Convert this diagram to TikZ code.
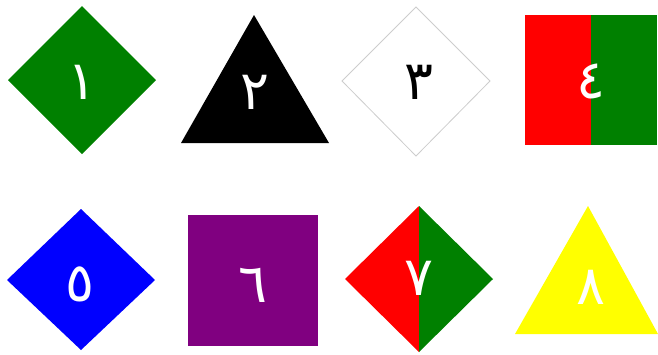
\documentclass[tikz,border=0pt]{standalone}
\usepackage{fontspec}
\newfontfamily\arabicfont[Script=Arabic]{DejaVu Sans}
\definecolor{cgreen}{RGB}{0,128,0}
\definecolor{cred}{RGB}{255,0,0}
\definecolor{cblue}{RGB}{0,0,255}
\definecolor{cpurple}{RGB}{128,0,128}
\definecolor{cyellow}{RGB}{255,255,0}
\definecolor{cgray}{RGB}{205,205,205}
\tikzset{
  digit/.style={font=\arabicfont\fontsize{54}{54}\selectfont, inner sep=0pt, text=white},
  digitdark/.style={digit, text=black},
}
\begin{document}
\begin{tikzpicture}[x=1pt,y=-1pt]
\useasboundingbox (0,0) rectangle (658,354);
% 1 green diamond
\fill[cgreen] (82,6) -- (156,80) -- (82,154) -- (8,80) -- cycle;
\node[digit] (d1) at (82,82) {١};
% 2 black triangle
\fill[black] (254,15) -- (329,143) -- (181,143) -- cycle;
\node[digit] (d2) at (255,92) {٢};
% 3 white diamond
\draw[cgray, line width=0.8pt, fill=white] (416,7) -- (490,81) -- (416,156) -- (342,81) -- cycle;
\node[digitdark] (d3) at (419,82) {٣};
% 4 red/green square
\fill[cred] (525,15) rectangle (591,145);
\fill[cgreen] (591,15) rectangle (657,145);
\node[digit] (d4) at (591,81) {٤};
% 5 blue diamond
\fill[cblue] (81,209) -- (155,280) -- (81,350) -- (7,280) -- cycle;
\node[digit] (d5) at (80,284) {٥};
% 6 purple square
\fill[cpurple] (188,215) rectangle (318,346);
\node[digit] (d6) at (253,285) {٦};
% 7 red/green diamond
\fill[cred] (419,206) -- (419,352) -- (345,279) -- cycle;
\fill[cgreen] (419,206) -- (493,279) -- (419,352) -- cycle;
\node[digit] (d7) at (419,278) {٧};
% 8 yellow triangle
\fill[cyellow] (588,206) -- (658,334) -- (515,334) -- cycle;
\node[digit] (d8) at (591,287) {٨};
\end{tikzpicture}
\end{document}
